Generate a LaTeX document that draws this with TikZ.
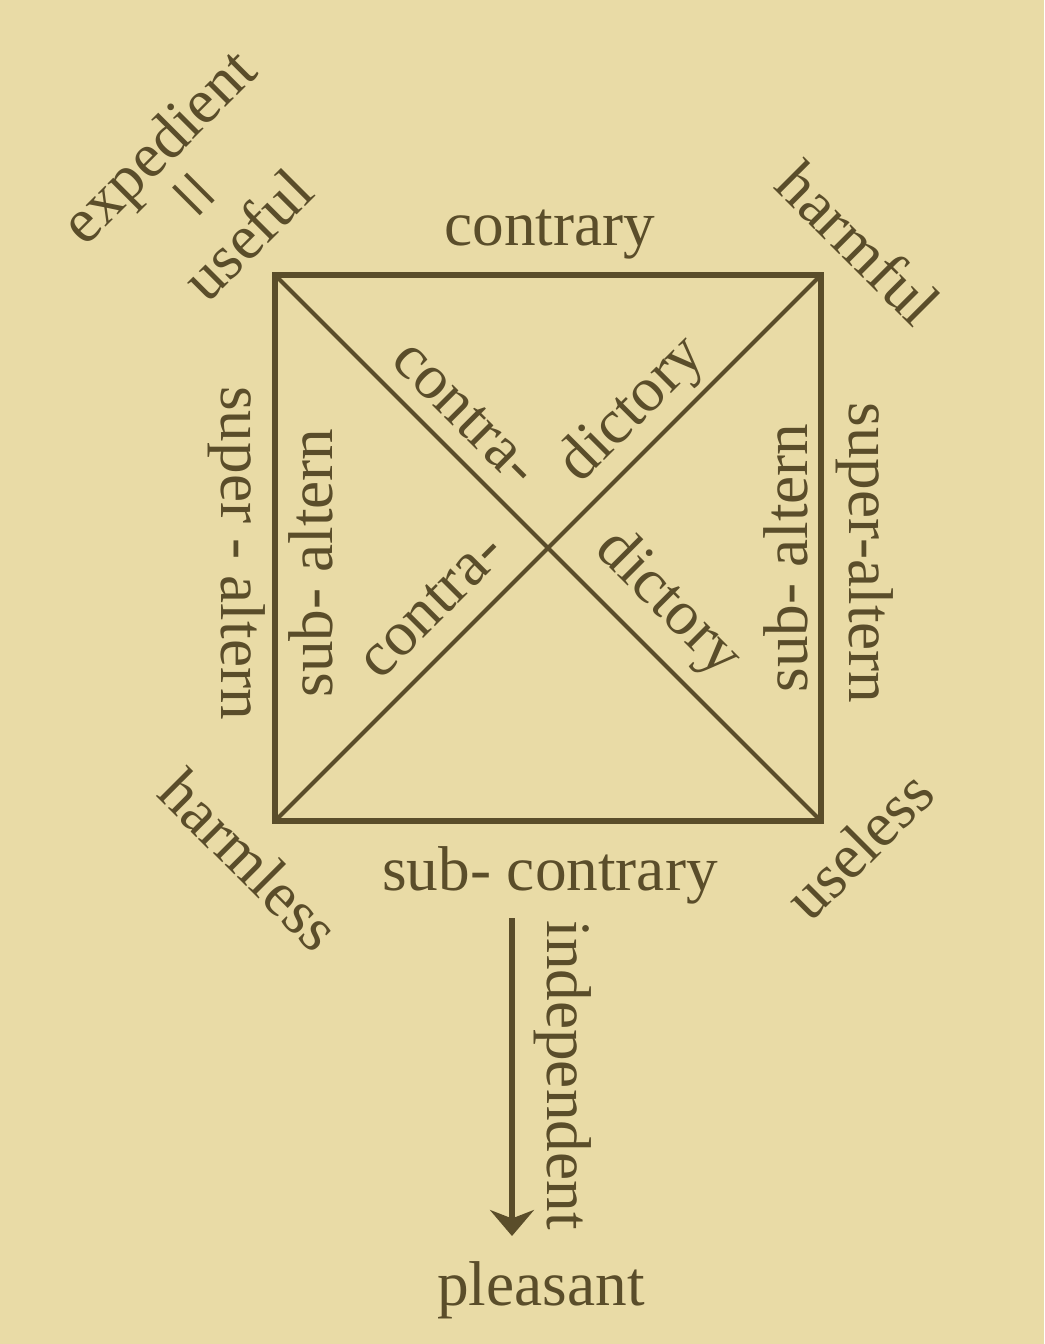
\documentclass[tikz,border=0pt]{standalone}
\usepackage{fontspec}
\setmainfont{Liberation Serif}
\usepackage{graphicx}
\usetikzlibrary{arrows.meta}
\definecolor{paper}{RGB}{233,219,166}
\definecolor{ink}{RGB}{90,77,42}
\begin{document}
\begin{tikzpicture}[
  lbl/.style={text=ink, inner sep=0pt, font=\fontsize{18}{18}\selectfont},
  side/.style={draw=ink, line width=1.7pt, line join=miter},
  diag/.style={draw=ink, line width=1.2pt}]
\fill[paper] (-5.48,5.48) rectangle (4.96,-7.96);
\useasboundingbox (-5.48,5.48) rectangle (4.96,-7.96);
% corners of the square
\coordinate (tl) at (-2.73,2.73);
\coordinate (tr) at (2.73,2.73);
\coordinate (br) at (2.73,-2.73);
\coordinate (bl) at (-2.73,-2.73);
\path[side] (tl) -- (tr) -- (br) -- (bl) -- cycle;
\path[diag] (tl) -- (br);
\path[diag] (bl) -- (tr);
% sides
\node[lbl, anchor=base] (contrary) at (0.02,3.03) {contrary};
\node[lbl, anchor=base] (subcontrary) at (0.02,-3.42) {sub- contrary};
\node[lbl, anchor=base, rotate=-90] (superL) at (-3.26,-0.05) {super - altern};
\node[lbl, anchor=base, rotate=90] (subL) at (-2.15,-0.15) {sub- altern};
\node[lbl, anchor=base, rotate=90] (subR) at (2.60,-0.10) {sub- altern};
\node[lbl, anchor=base, rotate=-90] (superR) at (3.02,-0.05) {super-altern};
% diagonals
\node[lbl, anchor=base, rotate=-45] (contraU) at (-0.95,1.22) {contra-};
\node[lbl, anchor=base, rotate=45] (dictoryU) at (0.96,1.27) {dictory};
\node[lbl, anchor=base, rotate=45] (contraL) at (-1.04,-0.70) {contra-};
\node[lbl, anchor=base, rotate=-45] (dictoryL) at (1.09,-0.67) {dictory};
% corners
\node[lbl, rotate=45, align=center] (useful) at (-3.46,3.58)
  {expedient\\\rotatebox{90}{\fontsize{24}{24}\selectfont =}\\useful};
\node[lbl, rotate=-45] (harmful) at (3.11,3.05) {harmful};
\node[lbl, rotate=-45] (harmless) at (-2.98,-3.12) {harmless};
\node[lbl, rotate=45] (useless) at (3.11,-2.97) {useless};
% below
\coordinate (arrtop) at (-0.36,-3.70);
\coordinate (arrend) at (-0.36,-6.88);
\path[draw=ink, line width=1.8pt, -{Stealth[length=2.6mm, width=4.4mm]}] (arrtop) -- (arrend);
\node[lbl, anchor=base, rotate=-90] (independent) at (0.0,-5.27) {independent};
\node[lbl, anchor=base] (pleasant) at (-0.07,-7.57) {pleasant};
\end{tikzpicture}
\end{document}
